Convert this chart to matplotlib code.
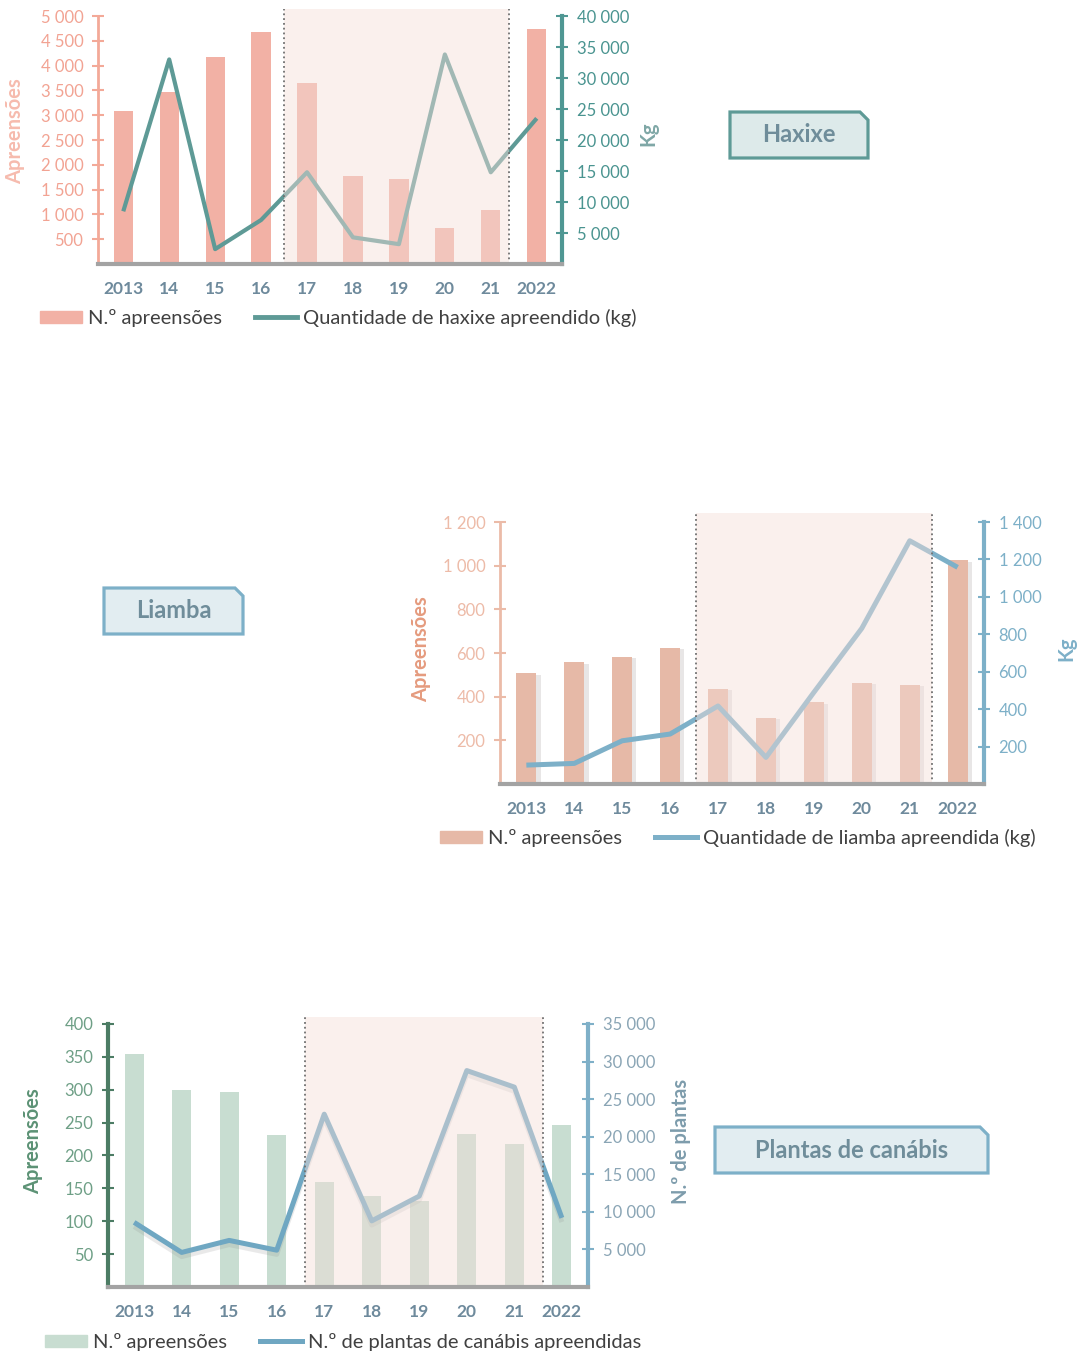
import matplotlib
matplotlib.use('Agg')
import matplotlib.pyplot as plt
from matplotlib.patches import Polygon, Patch
from matplotlib.lines import Line2D
import matplotlib.patheffects as pe

plt.rcParams['font.family'] = ['Lato', 'DejaVu Sans']

W, H = 1080, 1356  # figure size in pixels

years = ['2013', '14', '15', '16', '17', '18', '19', '20', '21', '2022']

# Haxixe
haxixe_apreensoes = [3090, 3470, 4180, 4670, 3640, 1770, 1710, 720, 1080, 4730]
haxixe_kg = [8500, 33000, 2400, 7100, 14800, 4300, 3200, 33800, 14800, 23500]
haxixe_left_ticks = [500, 1000, 1500, 2000, 2500, 3000, 3500, 4000, 4500, 5000]
haxixe_right_ticks = [5000, 10000, 15000, 20000, 25000, 30000, 35000, 40000]

# Liamba
liamba_apreensoes = [507, 558, 584, 624, 437, 302, 374, 463, 454, 1025]
liamba_kg = [101, 110, 231, 267, 417, 142, 490, 832, 1300, 1158]
liamba_left_ticks = [200, 400, 600, 800, 1000, 1200]
liamba_right_ticks = [200, 400, 600, 800, 1000, 1200, 1400]

# Plantas de canabis
canabis_apreensoes = [355, 300, 296, 231, 159, 138, 131, 233, 217, 247]
canabis_plantas = [8600, 4600, 6200, 4900, 23000, 8800, 12100, 28800, 26600, 9200]
canabis_left_ticks = [50, 100, 150, 200, 250, 300, 350, 400]
canabis_right_ticks = [5000, 10000, 15000, 20000, 25000, 30000, 35000]

fig = plt.figure(figsize=(W / 100, H / 100), dpi=100)


def px_axes(l, t, r, b):  # axes from pixel box (top-left origin)
    return fig.add_axes([l / W, 1 - b / H, (r - l) / W, (b - t) / H])


def fmt(v):
    return '{:,}'.format(v).replace(',', ' ')


def chart(box, bars, line, lticks, rticks, ltop, rtop, span,
          bar_col, lspine_col, ltick_col, ylab_col, rspine_col, rtick_col, rlab_col,
          line_col, lw, bar_w, ylabel, rlabel, ylab_pos, rlab_pos, lspine_w=2,
          bar_shadow=False, line_shadow=False):
    ax = px_axes(*box)
    x = list(range(len(years)))
    bar_kw = {}
    if bar_shadow:
        bar_kw['path_effects'] = [pe.SimplePatchShadow(offset=(3, -1), alpha=0.12), pe.Normal()]
    ax.bar(x, bars, width=bar_w, color=bar_col, zorder=2, **bar_kw)
    ax.set_xlim(-0.55, 9.55)
    ax.set_ylim(0, ltop)
    ax.set_yticks(lticks)
    ax.set_yticklabels([fmt(v) for v in lticks])
    ax.set_xticks(x)
    ax.set_xticklabels(years)
    ax.tick_params(axis='x', length=0, pad=12, labelsize=12.5, labelcolor='#6E8A9C')
    for t in ax.get_xticklabels():
        t.set_fontweight('bold')
    ax.tick_params(axis='y', direction='inout', length=9, width=1.5, color=lspine_col,
                   labelsize=12, labelcolor=ltick_col, pad=6)
    for s in ['top', 'right', 'bottom']:
        ax.spines[s].set_visible(False)
    ax.spines['left'].set_color(lspine_col)
    ax.spines['left'].set_linewidth(lspine_w)
    ax.spines['left'].set_bounds(0, lticks[-1])
    ax.set_ylabel(ylabel, color=ylab_col, fontsize=14.5, fontweight='bold', va='center')
    ax.yaxis.set_label_coords(*ylab_pos)

    ax2 = ax.twinx()
    line_kw = {}
    if line_shadow:
        line_kw['path_effects'] = [pe.SimpleLineShadow(offset=(0, -3), shadow_color='#8a8a8a',
                                                       alpha=0.18), pe.Normal()]
    ax2.plot(x, line, color=line_col, lw=lw, zorder=3, solid_capstyle='butt', **line_kw)
    ax2.set_ylim(0, rtop)
    ax2.set_yticks(rticks)
    ax2.set_yticklabels([fmt(v) for v in rticks])
    ax2.tick_params(axis='y', direction='inout', length=9, width=1.5, color=rspine_col,
                    labelsize=12, labelcolor=rtick_col, pad=6)
    for s in ['top', 'left', 'bottom']:
        ax2.spines[s].set_visible(False)
    ax2.spines['right'].set_color(rspine_col)
    ax2.spines['right'].set_linewidth(3)
    ax2.spines['right'].set_bounds(0, rticks[-1])
    ax2.set_ylabel(rlabel, color=rlab_col, fontsize=14.5, fontweight='bold', va='center')
    ax2.yaxis.set_label_coords(*rlab_pos)

    # highlighted period 2017-2021
    ax2.axvspan(span[0], span[1], ymin=0, ymax=1, color='#F4DED9', alpha=0.45,
                lw=0, zorder=5)
    for xv in span:
        ax2.axvline(xv, color='#707070', ls=':', lw=1.3, zorder=6)
    ax2.axhline(0, color='#A3A3A3', lw=3, zorder=7, clip_on=False)
    return ax, ax2


def legend(y, x, bar_col, line_col, lab1, lab2, lw):
    handles = [Patch(color=bar_col), Line2D([], [], color=line_col, lw=lw)]
    fig.legend(handles, [lab1, lab2], loc='center left', ncol=2, frameon=False,
               bbox_to_anchor=(x / W, 1 - y / H), borderaxespad=0, borderpad=0,
               fontsize=14.5, handlelength=2.1, handleheight=0.55, handletextpad=0.3,
               columnspacing=1.6, labelcolor='#404040')


def tag(l, t, r, b, text, face, edge, fs=17):
    c = 8
    pts = [(l, t), (r - c, t), (r, t + c), (r, b), (l, b)]
    poly = Polygon([(px / W, 1 - py / H) for px, py in pts], closed=True,
                   transform=fig.transFigure, facecolor=face, edgecolor=edge, lw=2.3)
    fig.patches.append(poly)
    fig.text((l + r) / 2 / W, 1 - (t + b) / 2 / H, text, ha='center', va='center',
             fontsize=fs, fontweight='bold', color='#6F8D9A')


# chart 1: Haxixe
chart((98, 8.6, 562, 264), haxixe_apreensoes, haxixe_kg, haxixe_left_ticks, haxixe_right_ticks,
      5150, 41200, (3.5, 8.4), '#F2B1A5', '#F3A998', '#F2A393', '#F6BBAE',
      '#4F9793', '#4A9490', '#7FA7A6', '#5E9A96', 3.0, 0.42,
      'Apreensões', 'Kg', (-0.179, 0.52), (1.187, 0.51))
legend(318, 40, '#F2B1A5', '#5E9A96', 'N.º apreensões', 'Quantidade de haxixe apreendido (kg)', 3.5)
tag(730, 112, 868, 158, 'Haxixe', '#DDEAEA', '#5E9A96')

# chart 2: Liamba
chart((500, 513.3, 984, 784), liamba_apreensoes, liamba_kg, liamba_left_ticks, liamba_right_ticks,
      1240, 1446.7, (3.55, 8.47), '#E6B9A7', '#EBBBA8', '#EDBBA8', '#E59B7E',
      '#7DB0C8', '#7DB0C8', '#7DB0C8', '#7DB0C8', 3.6, 0.42,
      'Apreensões', 'Kg', (-0.163, 0.5), (1.171, 0.5), bar_shadow=True)
legend(838, 440, '#E6B9A7', '#7DB0C8', 'N.º apreensões', 'Quantidade de liamba apreendida (kg)', 3.6)
tag(104, 588, 243, 634, 'Liamba', '#E2EDF1', '#7DB0C8')

# chart 3: Plantas de canabis
chart((108, 1017.4, 588, 1287), canabis_apreensoes, canabis_plantas, canabis_left_ticks,
      canabis_right_ticks, 410, 35875, (3.6, 8.6), '#C8DDD1', '#4C7C64', '#6E9F86', '#5C9275',
      '#7FB0C8', '#8AA5B5', '#7D9CAC', '#6FA7C2', 3.6, 0.4,
      'Apreensões', 'N.º de plantas', (-0.156, 0.54), (1.194, 0.54), lspine_w=3,
      line_shadow=True)
legend(1342, 45, '#C8DDD1', '#6FA7C2', 'N.º apreensões', 'N.º de plantas de canábis apreendidas', 3.6)
tag(715, 1127, 988, 1173, 'Plantas de canábis', '#E2EDF1', '#7DB0C8')

fig.savefig('out.png', dpi=100)
